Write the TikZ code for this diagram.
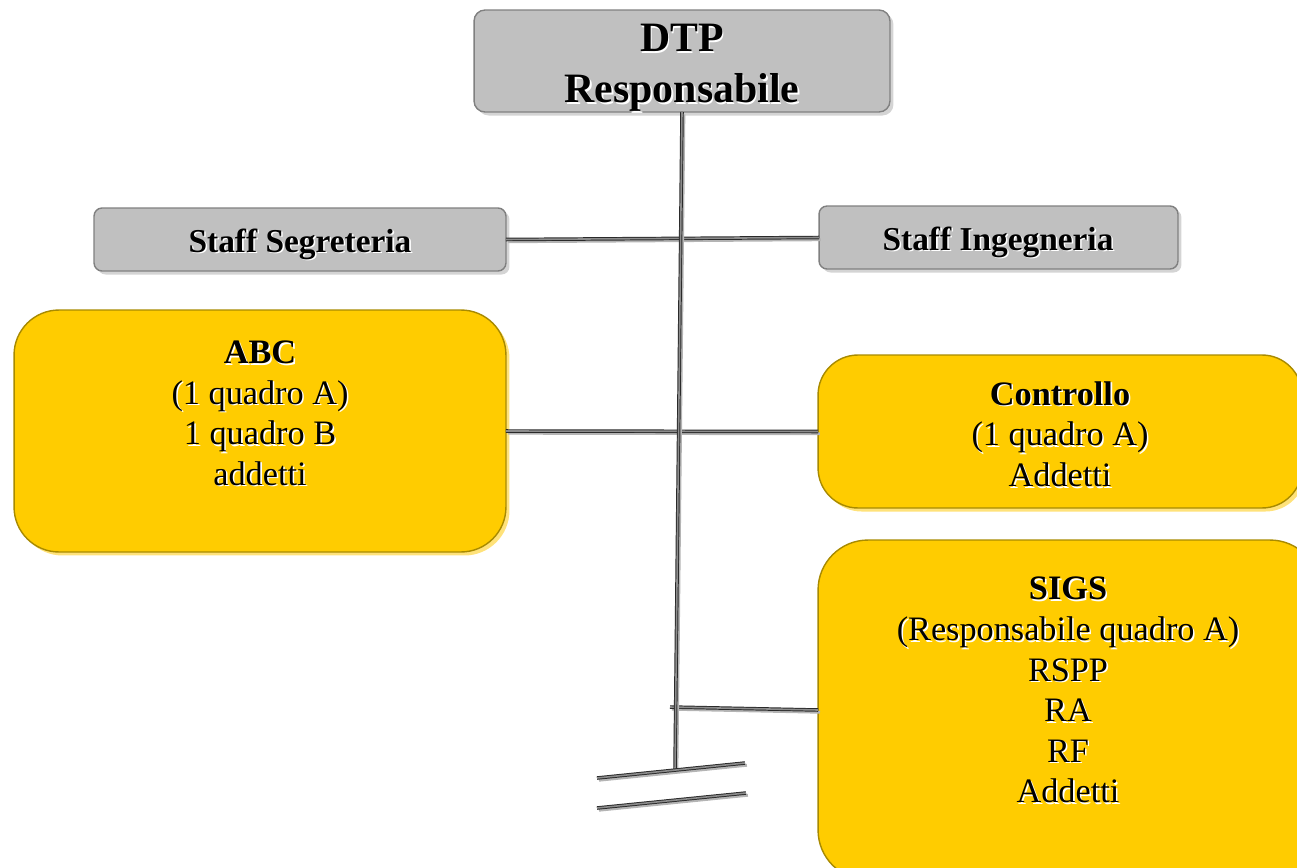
\documentclass[tikz,border=0pt]{standalone}
\usepackage{fontspec}
\setmainfont{Liberation Serif}
\usetikzlibrary{shadows}
\definecolor{boxgray}{HTML}{C0C0C0}
\definecolor{edgegray}{HTML}{808080}
\definecolor{shadegray}{HTML}{D4D4D4}
\definecolor{gold}{HTML}{FFCC00}
\definecolor{golddark}{HTML}{A88A00}
\definecolor{goldlight}{HTML}{FFE27A}
\definecolor{linedark}{HTML}{2A2A2A}
\definecolor{linegray}{HTML}{8C8C8C}
\definecolor{lineshade}{HTML}{B4B4B4}
% embossed text: white copy slightly down-right under the black text
\newcommand\emb[1]{{\rlap{\kern0.9pt\raisebox{-0.9pt}{\color{white}#1}}#1}}
\tikzset{
  graybox/.style={rectangle, rounded corners=0.22cm, fill=boxgray, draw=edgegray,
    line width=0.8pt, inner sep=0pt, outer sep=0pt,
    drop shadow={shadow xshift=2pt, shadow yshift=-2pt, fill=shadegray, opacity=1}},
  goldbox/.style={rectangle, rounded corners=0.9cm, fill=gold, draw=golddark,
    line width=0.8pt, inner sep=0pt, outer sep=0pt,
    drop shadow={shadow xshift=2pt, shadow yshift=-2pt, fill=goldlight, opacity=1}},
  txt/.style={align=center, inner sep=0pt, text=black},
  bigtxt/.style={txt, font=\fontsize{23.8}{29}\selectfont\bfseries},
  stafftxt/.style={txt, font=\fontsize{19}{23}\selectfont\bfseries},
  bodytxt/.style={txt, font=\fontsize{19.5}{23.1}\selectfont},
  conn/.style={draw=linedark, line width=0.55pt, double=linegray, double distance=0.9pt,
    preaction={draw=lineshade, line width=1.6pt,
      transform canvas={shift={(1.1pt,-1.3pt)}}}}
}
\begin{document}
\begin{tikzpicture}[x=0.02cm, y=-0.02cm]
\useasboundingbox (0,0) rectangle (1297,868);

% boxes
\node[graybox, minimum width=8.32cm, minimum height=2.04cm] (dtp) at (682,61) {};
\node[graybox, rounded corners=0.16cm, minimum width=8.24cm, minimum height=1.26cm] (seg) at (300,239.5) {};
\node[graybox, rounded corners=0.16cm, minimum width=7.18cm, minimum height=1.26cm] (ing) at (998.5,237.5) {};
\node[goldbox, minimum width=9.84cm, minimum height=4.84cm] (abc) at (260,431) {};
\node[goldbox, rounded corners=0.8cm, minimum width=9.68cm, minimum height=3.06cm] (ctrl) at (1060,431.5) {};
\node[goldbox, rounded corners=1.0cm, minimum width=10.04cm, minimum height=6.8cm] (sigs) at (1069,710) {};

% connectors
\coordinate (trunkend) at (675,770);
\coordinate (sigsjoin) at (670,707);
\coordinate (g1a) at (597,778);
\coordinate (g1b) at (745,763);
\coordinate (g2a) at (597,808);
\coordinate (g2b) at (746,793);
\draw[conn] (seg.east) -- (ing.west);
\draw[conn] (abc.east) -- (ctrl.west);
\draw[conn] (sigsjoin) -- (sigs.west);
\draw[conn] (dtp.south) -- (trunkend);
\draw[conn] (g1a) -- (g1b);
\draw[conn] (g2a) -- (g2b);

% labels
\node[bigtxt] (dtpt) at (682,69) {\emb{DTP}\\\emb{Responsabile}};
\node[stafftxt] (segt) at (300,245) {\emb{Staff Segreteria}};
\node[stafftxt] (ingt) at (998,243) {\emb{Staff Ingegneria}};
\node[bodytxt] (abct) at (260,414) {\emb{\textbf{ABC}}\\\emb{(1 quadro A)}\\\emb{1 quadro B}\\\emb{addetti}};
\node[bodytxt] (ctrlt) at (1060,435) {\emb{\textbf{Controllo}}\\\emb{(1 quadro A)}\\\emb{Addetti}};
\node[bodytxt] (sigst) at (1068,691) {\emb{\textbf{SIGS}}\\\emb{(Responsabile quadro A)}\\\emb{RSPP}\\\emb{RA}\\\emb{RF}\\\emb{Addetti}};
\end{tikzpicture}
\end{document}
